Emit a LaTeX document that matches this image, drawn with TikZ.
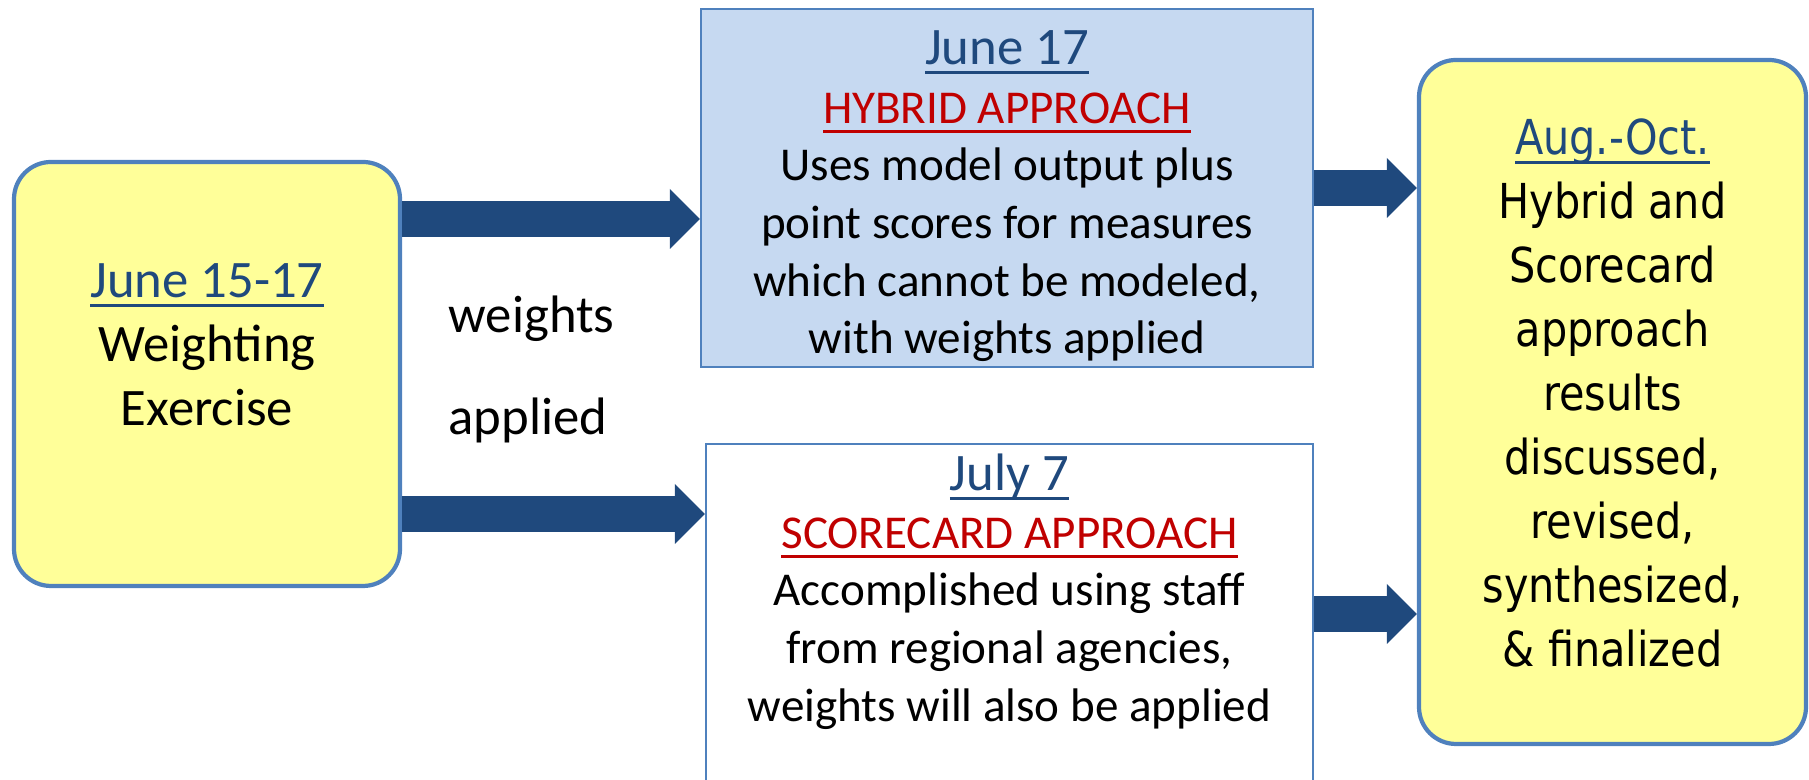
\documentclass[tikz,border=0pt]{standalone}
\usepackage{fontspec}
\setmainfont{Carlito}
\newfontfamily\boxfont[FakeStretch=0.86]{DejaVu Sans}
\usetikzlibrary{arrows.meta}
\definecolor{boxline}{RGB}{79,129,189}
\definecolor{noteyellow}{RGB}{255,255,153}
\definecolor{hybridblue}{RGB}{198,217,241}
\definecolor{arrowblue}{RGB}{31,73,125}
\definecolor{datecolor}{RGB}{31,73,125}
\definecolor{headred}{RGB}{192,0,0}
\newsavebox{\markbox}
\newcommand{\ulmark}[2]{{\color{#1}\sbox{\markbox}{#2}\rlap{\rule[-2.7pt]{\wd\markbox}{0.9pt}}\usebox{\markbox}}}
\newcommand{\datemark}[1]{\ulmark{datecolor}{#1}}
\newcommand{\headmark}[1]{\ulmark{headred}{#1}}
\tikzset{
  yellowbox/.style={draw=boxline, fill=noteyellow, line width=1.2pt, rounded corners=0.37cm, inner sep=0pt},
  plainbox/.style={draw=boxline, line width=0.6pt, inner sep=0pt},
  bigarrow/.style={draw=arrowblue, line width=0.36cm, -{Triangle[length=0.30cm, width=0.60cm, line width=0pt]}},
  bodytext/.style={align=center, inner sep=0pt, anchor=north, font=\fontsize{13.4}{16.4}\selectfont},
  datetext/.style={align=center, inner sep=0pt, anchor=north, font=\fontsize{15}{18.2}\selectfont},
}
\begin{document}
\begin{tikzpicture}
                    \clip (0,0) rectangle (18.090000,7.800000);

                    % Drawing box June 15-17
                    \node [yellowbox, minimum width=3.86cm, minimum height=4.24cm] (weighting) at (2.070000,4.060000) {};%
                    \node [datetext] (weightingtext) at (2.070000,5.170000) {\datemark{June 15-17}\\Weighting\\Exercise};%

                    % Drawing box June 17
                    \node [plainbox, fill=hybridblue, minimum width=6.12cm, minimum height=3.58cm] (hybrid) at (10.070000,5.920000) {};%
                    \node [datetext] (hybriddate) at (10.070000,7.500000) {\datemark{June 17}};%
                    \node [bodytext] (hybridtext) at (10.070000,6.880000) {\headmark{HYBRID APPROACH}\\Uses model output plus\\point scores for measures\\which cannot be modeled,\\with weights applied};%

                    % Drawing box July 7
                    \node [plainbox, fill=white, minimum width=6.07cm, minimum height=3.40cm] (scorecard) at (10.095000,1.660000) {};%
                    \node [datetext] (scorecarddate) at (10.095000,3.270000) {\datemark{July 7}};%
                    \node [bodytext] (scorecardtext) at (10.095000,2.630000) {\headmark{SCORECARD APPROACH}\\Accomplished using staff\\from regional agencies,\\weights will also be applied};%

                    % Drawing box Aug.-Oct.
                    \node [yellowbox, minimum width=3.87cm, minimum height=6.84cm] (finalize) at (16.125000,3.780000) {};%
                    \node [align=center, inner sep=0pt, anchor=north, font=\boxfont\fontsize{13.7}{18.2}\selectfont] (finalizetext) at (16.125000,6.620000) {\datemark{Aug.-Oct.}\\Hybrid and\\Scorecard\\approach\\results\\discussed,\\revised,\\synthesized,\\\& finalized};%

                    % Labels between the boxes
                    \node [datetext, anchor=base west] (weightslabel) at (4.480000,4.470000) {weights};%
                    \node [datetext, anchor=base west] (appliedlabel) at (4.480000,3.450000) {applied};%

                    % Drawing arrows
                    \draw [bigarrow] ([yshift=1.55cm]weighting.east) -- ([yshift=1.55cm]weighting.east -| hybrid.west);%
                    \draw [bigarrow] ([yshift=-1.40cm]weighting.east) -- ([yshift=-1.40cm]weighting.east -| scorecard.west);%
                    \draw [bigarrow] (hybrid.east) -- (hybrid.east -| finalize.west);%
                    \draw [bigarrow] (scorecard.east) -- (scorecard.east -| finalize.west);%
\end{tikzpicture}
\end{document}
